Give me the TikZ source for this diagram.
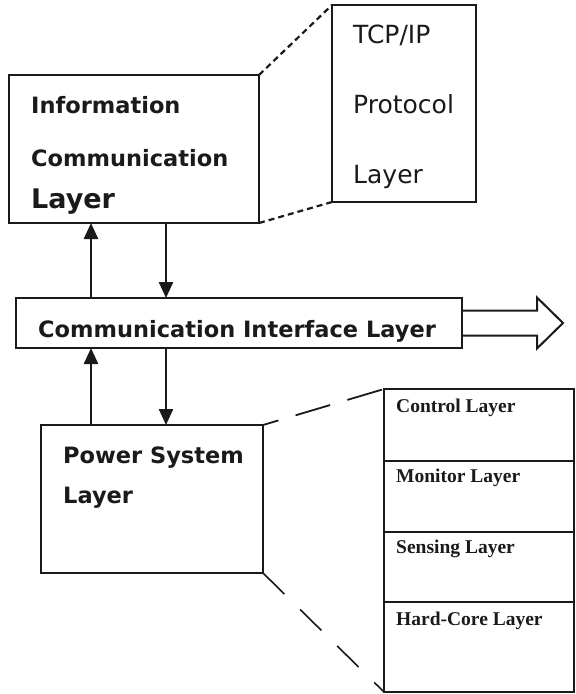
\documentclass[tikz,border=0pt]{standalone}
\usepackage{fontspec}
\newfontfamily\sansfam{DejaVu Sans}
\newfontfamily\seriffam{Liberation Serif}
\usetikzlibrary{arrows.meta}
\definecolor{ink}{HTML}{1A1A1A}

\tikzset{
  box/.style={draw=ink, line width=2.2pt, rectangle, inner sep=0pt, outer sep=0pt, fill=white},
  lbl/.style={anchor=base west, inner sep=0pt, text=ink},
  boldlbl/.style={lbl, font=\sansfam\bfseries\fontsize{22.5}{27}\selectfont},
  plainlbl/.style={lbl, font=\sansfam\fontsize{25}{30}\selectfont},
  stacklbl/.style={lbl, font=\seriffam\bfseries\fontsize{19.5}{23}\selectfont},
  flow/.style={draw=ink, line width=2.4pt, -{Triangle[width=14pt,length=16pt]}},
  zoomA/.style={draw=ink, line width=2.2pt, dash pattern=on 6pt off 4pt},
  zoomB/.style={draw=ink, line width=1.8pt, dash pattern=on 36pt off 18pt, dash phase=20pt},
  zoomC/.style={draw=ink, line width=1.6pt, dash pattern=on 30pt off 22pt}
}

\begin{document}
\begin{tikzpicture}[x=1pt, y=-1pt]
  \useasboundingbox (0,0) rectangle (576,694);
  \fill[white] (0,0) rectangle (576,694);

  % main blocks
  \node[box, minimum width=250pt, minimum height=148pt] (info) at (134,149) {};
  \node[box, minimum width=144pt, minimum height=197pt] (tcp) at (404,103.5) {};
  \node[box, minimum width=446pt, minimum height=50pt] (comm) at (239,323) {};
  \node[box, minimum width=222pt, minimum height=148pt] (power) at (152,499) {};

  % expanded power-system stack
  \node[box, minimum width=190pt, minimum height=72pt] (ctl) at (479,425) {};
  \node[box, minimum width=190pt, minimum height=71pt] (mon) at (479,496.5) {};
  \node[box, minimum width=190pt, minimum height=70pt] (sen) at (479,567) {};
  \node[box, minimum width=190pt, minimum height=90pt] (hard) at (479,647) {};

  % labels
  \node[boldlbl] (t1) at (31,113.5) {Information};
  \node[boldlbl] (t2) at (31,166) {Communication};
  \node[lbl, font=\sansfam\bfseries\fontsize{27}{32}\selectfont] (t3) at (31,208) {Layer};

  \node[plainlbl] (p1) at (353,43) {TCP/IP};
  \node[plainlbl] (p2) at (353,113) {Protocol};
  \node[plainlbl] (p3) at (353,183) {Layer};

  \node[boldlbl] (c1) at (38,337) {Communication Interface Layer};

  \node[boldlbl] (w1) at (63,463) {Power System};
  \node[boldlbl] (w2) at (63,503) {Layer};

  \node[stacklbl] (s1) at ([xshift=12pt, yshift=-23pt]ctl.north west) {Control Layer};
  \node[stacklbl] (s2) at ([xshift=12pt, yshift=-21pt]mon.north west) {Monitor Layer};
  \node[stacklbl] (s3) at ([xshift=12pt, yshift=-21pt]sen.north west) {Sensing Layer};
  \node[stacklbl] (s4) at ([xshift=12pt, yshift=-23pt]hard.north west) {Hard-Core Layer};

  % zoom-out guide lines
  \draw[zoomA] (info.north east) -- (tcp.north west);
  \draw[zoomA] (info.south east) -- (tcp.south west);
  \draw[zoomB] (power.north east) -- (ctl.north west);
  \draw[zoomC] (power.south east) -- (hard.south west);

  % vertical flows
  \coordinate (upx) at (91,0);
  \coordinate (dnx) at (166,0);
  \draw[flow] (upx |- comm.north) -- (upx |- info.south);
  \draw[flow] (dnx |- info.south) -- (dnx |- comm.north);
  \draw[flow] (upx |- power.north) -- (upx |- comm.south);
  \draw[flow] (dnx |- comm.south) -- (dnx |- power.north);

  % hollow output arrow
  \draw[draw=ink, line width=2pt, line join=miter]
    ([yshift=12.5pt]comm.east) -- ++(75,0) -- ++(0,-13) -- ++(26,25.5)
    -- ++(-26,25.5) -- ++(0,-13) -- ([yshift=-12.5pt]comm.east);
\end{tikzpicture}
\end{document}
